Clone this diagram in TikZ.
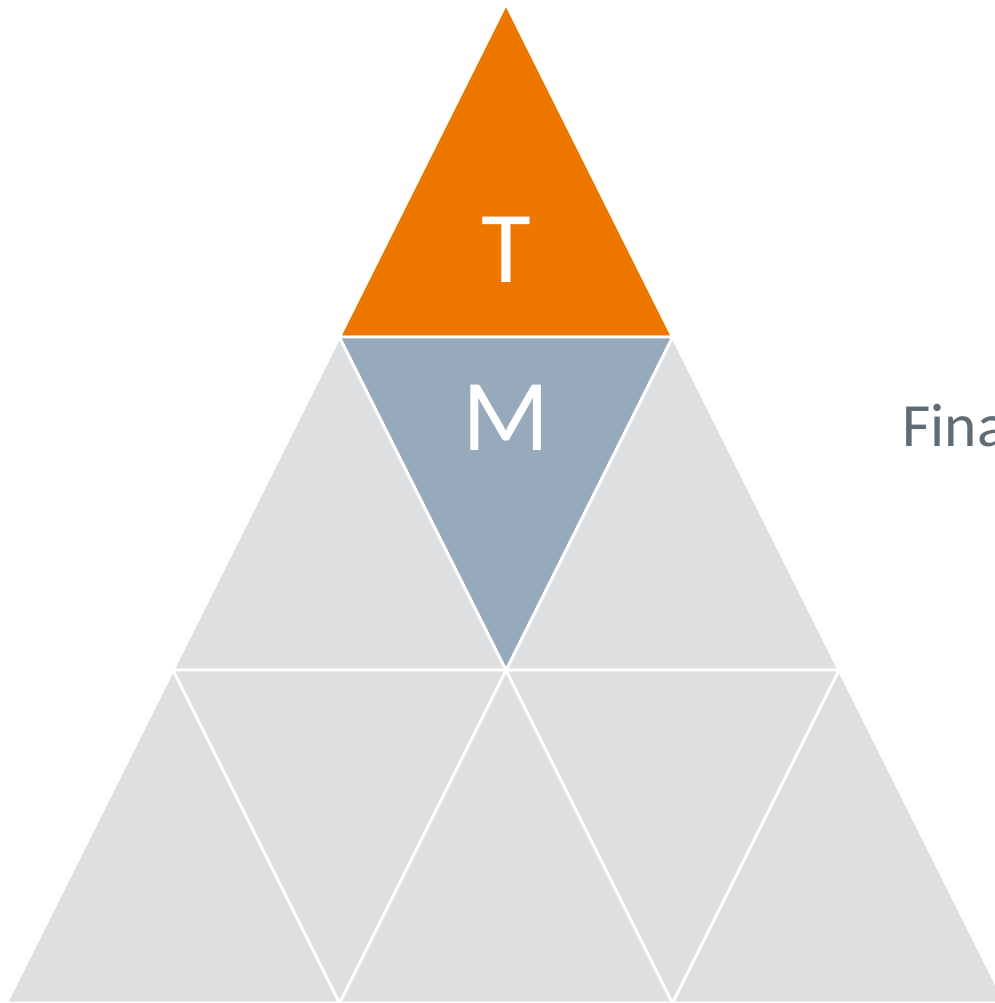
\documentclass[tikz,border=0pt]{standalone}
\usepackage{fontspec}
\setmainfont{Carlito}
\definecolor{tiporange}{RGB}{238,119,0}
\definecolor{midblue}{RGB}{150,170,187}
\definecolor{cellgray}{RGB}{222,223,225}
\definecolor{labelgray}{RGB}{95,107,117}
\tikzset{
  cell/.style={fill=cellgray,draw=white,line width=0.8pt,line join=round},
  letter/.style={text=white,font=\fontsize{29}{32}\selectfont},
}
\begin{document}
\begin{tikzpicture}[x=0.01cm,y=-0.01cm]
	\useasboundingbox (0,0) rectangle (995,1003);
	
	% grid points, row r, point k
	\foreach \r in {0,...,3}{
		\foreach \k in {0,...,\r}{
			\coordinate (p\r\k) at ({506-166.5*\r+333*\k}, {4+333*\r});
		}
	}
	
	% upward cells
	\fill[cell] (p00) -- (p10) -- (p11) -- cycle;
	\draw[cell] (p10) -- (p20) -- (p21) -- cycle;
	\draw[cell] (p11) -- (p21) -- (p22) -- cycle;
	\draw[cell] (p20) -- (p30) -- (p31) -- cycle;
	\draw[cell] (p21) -- (p31) -- (p32) -- cycle;
	\draw[cell] (p22) -- (p32) -- (p33) -- cycle;
	
	% downward cells
	\draw[cell] (p10) -- (p11) -- (p21) -- cycle;
	\draw[cell] (p20) -- (p21) -- (p31) -- cycle;
	\draw[cell] (p21) -- (p22) -- (p32) -- cycle;
	
	% highlighted cells
	\draw[cell,fill=tiporange] (p00) -- (p10) -- (p11) -- cycle;
	\draw[cell,fill=midblue] (p10) -- (p11) -- (p21) -- cycle;
	
	\node[letter] (top) at (506, 250)     {T};
	\node[letter] (mid) at (506, 418)     {M};
	
	\node[anchor=west,text=labelgray,font=\fontsize{17.5}{20}\selectfont] (final) at (890, 426)     {Fina};
\end{tikzpicture}
\end{document}
